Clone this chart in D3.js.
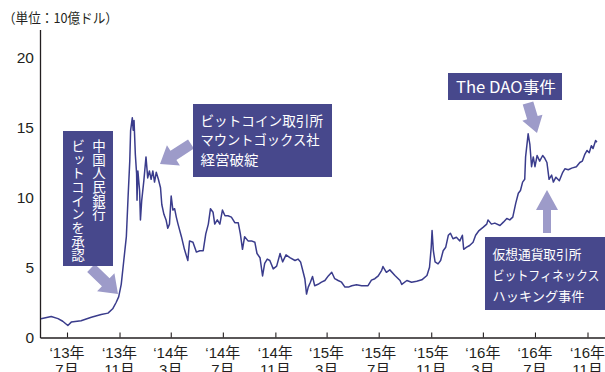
<!DOCTYPE html>
<html>
<head>
<meta charset="utf-8">
<script src="https://cdn.jsdelivr.net/npm/d3@7"></script>
<style>
body { margin: 0; background: #fff; }
text { font-family: "Liberation Sans", "Noto Sans CJK JP", sans-serif; }
.jp { font-family: "Noto Sans CJK JP", sans-serif; }
</style>
</head>
<body>
<div id="chart"></div>
<script>
var width = 605, height = 372;

// 時価総額（10億ドル）、チャートから読み取り
var dates = ["2013-05-01","2013-05-25","2013-06-10","2013-06-21","2013-07-03","2013-07-11","2013-08-03","2013-08-27","2013-09-19","2013-10-05","2013-10-16","2013-10-24","2013-10-30","2013-11-05","2013-11-11","2013-11-17","2013-11-21","2013-11-25","2013-11-27","2013-12-01","2013-12-03","2013-12-05","2013-12-08","2013-12-11","2013-12-12","2013-12-14","2013-12-18","2013-12-20","2013-12-23","2013-12-28",
  "2014-01-02","2014-01-06","2014-01-10","2014-01-14","2014-01-18","2014-01-22","2014-01-26","2014-01-31","2014-02-05","2014-02-08","2014-02-13","2014-02-18","2014-02-22","2014-02-26","2014-03-02","2014-03-06","2014-03-10","2014-03-14","2014-03-18","2014-03-26","2014-04-02","2014-04-10","2014-04-14","2014-04-22","2014-04-30","2014-05-08","2014-05-16","2014-05-22","2014-05-28","2014-06-02","2014-06-08","2014-06-12","2014-06-18","2014-06-24","2014-06-30","2014-07-06","2014-07-13","2014-07-21","2014-07-29","2014-08-06","2014-08-11","2014-08-16","2014-08-21","2014-08-29","2014-09-06","2014-09-14","2014-09-19","2014-09-26","2014-10-02","2014-10-07","2014-10-13","2014-10-19","2014-10-27","2014-11-04","2014-11-12","2014-11-18","2014-11-26","2014-12-05","2014-12-17","2014-12-24","2014-12-30",
  "2015-01-04","2015-01-09","2015-01-13","2015-01-17","2015-01-22","2015-01-27","2015-02-01","2015-02-09","2015-02-17","2015-02-25","2015-03-05","2015-03-13","2015-03-20","2015-03-28","2015-04-05","2015-04-13","2015-04-21","2015-04-29","2015-05-10","2015-05-22","2015-05-30","2015-06-06","2015-06-14","2015-06-22","2015-06-30","2015-07-08","2015-07-11","2015-07-19","2015-07-27","2015-08-08","2015-08-20","2015-08-24","2015-09-05","2015-09-16","2015-09-28","2015-10-10","2015-10-22","2015-10-28","2015-11-01","2015-11-03","2015-11-06","2015-11-10","2015-11-17","2015-11-23","2015-11-29","2015-12-05","2015-12-11","2015-12-16","2015-12-22","2015-12-30",
  "2016-01-07","2016-01-13","2016-01-16","2016-01-23","2016-01-30","2016-02-07","2016-02-13","2016-02-21","2016-03-02","2016-03-10","2016-03-13","2016-03-21","2016-03-29","2016-04-10","2016-04-18","2016-04-26","2016-05-03","2016-05-10","2016-05-17","2016-05-23","2016-05-28","2016-06-02","2016-06-07","2016-06-09","2016-06-15","2016-06-19","2016-06-23","2016-06-27","2016-07-01","2016-07-06","2016-07-12","2016-07-19","2016-07-24","2016-07-29","2016-08-03","2016-08-09","2016-08-13","2016-08-19","2016-08-27","2016-09-04","2016-09-09","2016-09-17","2016-09-25","2016-10-06","2016-10-14","2016-10-20","2016-10-26","2016-10-31","2016-11-05","2016-11-10","2016-11-14","2016-11-20","2016-11-23"];
var marketCap = [1.34,1.5,1.35,1.16,0.86,1.1,1.2,1.45,1.64,1.74,2.05,2.5,2.9,3.8,5.5,7.2,10,12.6,14.8,15.7,14.8,15.5,13.1,11.7,9.8,11.9,10.5,8.4,9.8,11.2,
  12.9,11.4,11.9,11.3,11.9,11.1,11.8,11.3,10.7,9.5,8.8,8.4,7.8,8.1,10.1,9.1,9.2,8.6,8.1,7.2,6.3,5.5,6.9,6.8,6.1,6.2,6.2,7.4,8.1,9.2,8.95,8.1,8.4,8.1,9.1,8.7,8.7,8.6,8.2,8.2,7.4,6.3,7.2,6.9,6.9,6.8,6.0,5.7,4.4,5.3,5.6,5.5,4.9,5.1,6.0,5.4,5.9,5.7,5.5,5.6,5.4,
  4.8,4.2,3.1,3.6,3.95,4.36,3.7,3.8,3.95,4.07,4.4,4.66,4.2,4.07,3.95,3.6,3.6,3.7,3.76,3.7,3.7,3.7,4.1,4.2,4.4,4.8,5.07,4.66,4.83,4.43,4.07,3.79,4.07,3.95,4.02,4.12,4.43,5.02,6.45,7.64,6.2,5.4,5.26,5.5,6.2,6.45,7.3,7.45,7.05,7.16,
  6.9,7.3,6.3,6.45,6.57,6.8,7.3,7.64,7.88,8.1,8.4,8.1,8.17,8.0,8.24,8.5,8.4,8.6,9.6,10.3,10.5,11.1,11.3,12.9,14.55,13.8,12.2,12.9,12.2,13.0,12.6,13.0,12.8,12.5,11.3,11.6,11.1,11.45,11.2,11.8,12.05,11.98,12.1,12.2,12.5,12.6,13.1,13.36,13.2,13.7,13.5,14.07,13.95];

// x軸の目盛り
var tickDates = ["2013-07-01","2013-11-01","2014-03-01","2014-07-01","2014-11-01","2015-03-01","2015-07-01","2015-11-01","2016-03-01","2016-07-01","2016-11-01"];
var tickYears = ["‘13年","‘13年","‘14年","‘14年","‘14年","‘15年","‘15年","‘15年","‘16年","‘16年","‘16年"];
var tickMonths = ["7月","11月","3月","7月","11月","3月","7月","11月","3月","7月","11月"];
var yTicks = [0, 5, 10, 15, 20];

var parse = d3.timeParse("%Y-%m-%d");
var data = dates.map(function(d, i){ return {date: parse(d), v: marketCap[i]}; });

var svg = d3.select("#chart").append("svg")
    .attr("width", width).attr("height", height);

// 7月'13 → 67px, 11月'16 → 587.5px を基準にしてから左右いっぱいに広げる
var xBase = d3.scaleTime()
    .domain([parse("2013-07-01"), parse("2016-11-01")])
    .range([67, 587.5]);
var xScale = d3.scaleTime()
    .domain([xBase.invert(40), xBase.invert(605)])
    .range([40, 605]);
var yScale = d3.scaleLinear().domain([0, 22]).range([337.5, 29.5]);

// 単位
svg.append("text").attr("class", "jp")
    .attr("x", 3).attr("y", 23)
    .attr("textLength", 115).attr("lengthAdjust", "spacingAndGlyphs")
    .style("font-size", "13.5px").style("fill", "#231f20")
    .text("（単位：10億ドル）");

// y軸
var yAxis = d3.axisLeft(yScale).tickValues(yTicks).tickSize(0).tickSizeOuter(0).tickPadding(6);
var gy = svg.append("g").attr("transform", "translate(40,0)").call(yAxis);
gy.select(".domain").attr("stroke", "#231f20").attr("stroke-width", 1.3);
gy.selectAll("text").style("font-size", "15.5px").style("fill", "#231f20")
    .style("font-family", "'Liberation Sans', sans-serif");

// x軸（目盛りは上向き）
var xAxis = d3.axisBottom(xScale)
    .tickValues(tickDates.map(parse))
    .tickSize(-5).tickSizeOuter(0).tickFormat("");
var gx = svg.append("g").attr("transform", "translate(0,337.5)").call(xAxis);
gx.select(".domain").attr("stroke", "#231f20").attr("stroke-width", 1.3);
gx.selectAll(".tick line").attr("stroke", "#231f20").attr("stroke-width", 1.1);

var labels = svg.append("g").selectAll("text").data(tickDates).enter().append("text")
    .attr("text-anchor", "middle")
    .style("font-size", "15px").style("fill", "#231f20");
labels.append("tspan")
    .attr("x", function(d){ return xScale(parse(d)); })
    .attr("y", 357.5)
    .text(function(d, i){ return tickYears[i]; });
labels.append("tspan")
    .attr("x", function(d){ return xScale(parse(d)); })
    .attr("y", 375)
    .text(function(d, i){ return tickMonths[i]; });

// 折れ線
var line = d3.line()
    .x(function(d){ return xScale(d.date); })
    .y(function(d){ return yScale(d.v); });
svg.append("path").datum(data)
    .attr("d", line)
    .attr("fill", "none")
    .attr("stroke", "#3a3c8c")
    .attr("stroke-width", 1.5)
    .attr("stroke-linejoin", "round");

// 矢印
var arrowColor = "#9d9bc9";
function arrow(x1, y1, x2, y2, sw, hw, hl){
    var dx = x2 - x1, dy = y2 - y1, len = Math.sqrt(dx*dx + dy*dy);
    var ux = dx/len, uy = dy/len, px = -uy, py = ux;
    var bx = x2 - ux*hl, by = y2 - uy*hl;
    var pts = [
        [x1 + px*sw/2, y1 + py*sw/2],
        [bx + px*sw/2, by + py*sw/2],
        [bx + px*hw/2, by + py*hw/2],
        [x2, y2],
        [bx - px*hw/2, by - py*hw/2],
        [bx - px*sw/2, by - py*sw/2],
        [x1 - px*sw/2, y1 - py*sw/2]
    ];
    svg.append("polygon")
        .attr("points", pts.map(function(p){ return p.join(","); }).join(" "))
        .attr("fill", arrowColor);
}
arrow(91, 268, 118, 294, 11, 25, 17);
arrow(191, 144, 160, 164, 11, 24, 16);
arrow(528, 103, 537, 133, 11, 21, 16);
arrow(547, 233, 547, 190, 8, 22, 20);

// 注釈ボックス
var boxColor = "#47488c";
svg.append("rect").attr("x", 63).attr("y", 131).attr("width", 50).attr("height", 135).attr("fill", boxColor);
svg.append("rect").attr("x", 193).attr("y", 104).attr("width", 139).attr("height", 73).attr("fill", boxColor);
svg.append("rect").attr("x", 448).attr("y", 73).attr("width", 114).attr("height", 27).attr("fill", boxColor);
svg.append("rect").attr("x", 485).attr("y", 237).attr("width", 120).attr("height", 73).attr("fill", boxColor);

// 縦書き
function vtext(x, y, s){
    svg.append("text").attr("class", "jp")
        .attr("x", x).attr("y", y)
        .style("writing-mode", "vertical-rl")
        .style("font-size", "13.5px")
        .style("letter-spacing", "0.2px")
        .style("fill", "#fff")
        .text(s);
}
vtext(99, 139, "中国人民銀行");
vtext(78, 139, "ビットコインを承認");

function htext(x, y, s, w, size){
    svg.append("text").attr("class", "jp")
        .attr("x", x).attr("y", y)
        .attr("textLength", w).attr("lengthAdjust", "spacingAndGlyphs")
        .style("font-size", size + "px")
        .style("fill", "#fff")
        .text(s);
}
htext(200.5, 125.5, "ビットコイン取引所", 122.5, 13.5);
htext(200.5, 145, "マウントゴックス社", 119, 13.5);
htext(200.5, 164.5, "経営破綻", 58, 13.5);
htext(456, 92.5, "The DAO事件", 100, 15.5);
htext(492.5, 259, "仮想通貨取引所", 89, 13);
htext(492.5, 280, "ビットフィネックス", 107, 13);
htext(492.5, 300.5, "ハッキング事件", 92, 13);
</script>
</body>
</html>
